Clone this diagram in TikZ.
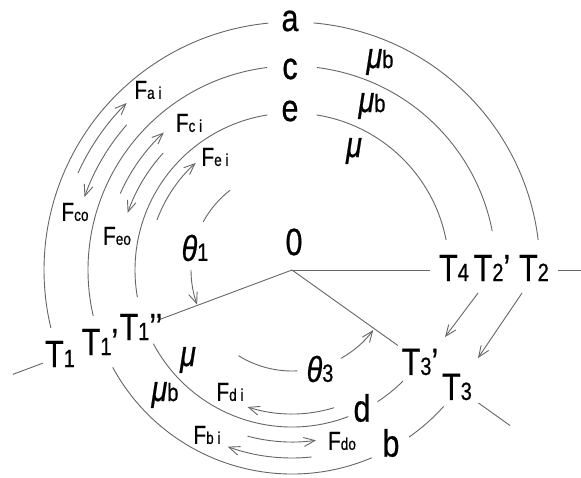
\documentclass[tikz,border=0pt]{standalone}
\usepackage{fontspec}
\setmainfont{Liberation Sans}[FakeStretch=0.8,FakeBold=0.6]
\usetikzlibrary{arrows.meta}
\newcommand\Tsub[1]{{\fontsize{25}{25}\selectfont #1}}
\newcommand\Fsub[1]{{\fontsize{17}{17}\selectfont #1}}
\newcommand\carc[4][]{\draw[ln,#1] (#2:#4pt) arc[start angle=#2,end angle=#3,radius=#4pt];}
\begin{document}
\begin{tikzpicture}[x=1pt,y=1pt,
  ln/.style={draw=black!60, line width=0.9pt},
  arr/.style={-{Straight Barb[length=11pt,width=9pt]}},
  big/.style={font=\fontsize{38}{38}\selectfont, inner sep=0pt},
  fl/.style={font=\fontsize{26}{26}\selectfont, inner sep=0pt},
  gr/.style={font=\fontsize{36}{36}\selectfont\itshape, inner sep=0pt},
]
\useasboundingbox[fill=white] (0,0) rectangle (581,477);
\coordinate (O) at (292,207);
\begin{scope}[shift={(O)}]
  % radial lines
  \draw[ln] (0,0) -- (0:138pt);
  \draw[ln] (0:266pt) -- (0:290pt);
  \draw[ln] (0,0) -- (200.5:141pt);
  \draw[ln] (200.5:266pt) -- (200.5:298pt);
  \draw[ln] (0,0) -- (-35.5:130pt);
  \draw[ln] (-35.5:229pt) -- (-35.5:268pt);
  % upper arcs
  \carc{85}{7}{248}
  \carc{95.5}{193.5}{248}
  \carc{83}{11}{204}
  \carc{97}{193}{204}
  \carc{81}{11}{157}
  \carc{99}{190}{157}
  % lower arcs
  \carc{208}{291}{157}
  \carc{303}{315}{157}
  \carc{208.5}{293}{204}
  \carc{305}{318}{204}
  % force arrows
  \carc[arr]{155.6}{134.7}{235}
  \carc[arr]{138.7}{160.6}{220}
  \carc[arr]{156}{133}{188}
  \carc[arr]{137.8}{160.8}{174}
  \carc[arr]{159.7}{132}{144}
  \carc[arr]{287}{252}{144}
  \carc[arr]{255}{278}{172}
  \carc[arr]{276}{250}{188}
  % angle arcs
  \carc{127.8}{151.5}{101}
  \carc[arr]{180}{200}{101}
  \carc{238}{273}{101}
  \carc[arr]{299}{323.5}{101}
\end{scope}
% labels
\node[big] (la) at (290,456) {a};
\node[big] (lc) at (290,408) {c};
\node[big] (le) at (290,366) {e};
\node[big] (l0) at (294,235) {0};
\node[big] (lT1) at (60,123) {T\Tsub{1}};
\node[big] (lT1p) at (100,135) {T\Tsub{1}’};
\node[big] (lT1pp) at (141,150) {T\Tsub{1}’’};
\node[big] (lT4) at (454,209) {T\Tsub{4}};
\node[big] (lT2p) at (492,209) {T\Tsub{2}’};
\node[big] (lT2) at (534,209) {T\Tsub{2}};
\node[big] (lT3p) at (420,115) {T\Tsub{3}’};
\node[big] (lT3) at (457,90) {T\Tsub{3}};
\node[big] (ld) at (362,69) {d};
\node[big] (lb) at (391,34) {b};
\node[gr] (th1) at (195,229) {θ\Tsub{\upshape 1}};
\node[gr] (th3) at (320,108) {θ\Tsub{\upshape 3}};
\node[gr] (mu1) at (380,415) {μ\Tsub{\upshape b}};
\node[gr] (mu2) at (372,371) {μ\Tsub{\upshape b}};
\node[gr] (mu3) at (354,326) {μ};
\node[gr] (mu4) at (188,117) {μ};
\node[gr] (mu5) at (165,82) {μ\Tsub{\upshape b}};
\node[fl] (fai) at (148,387) {F\Fsub{a i}};
\node[fl] (fci) at (189,354) {F\Fsub{c i}};
\node[fl] (fei) at (215,320) {F\Fsub{e i}};
\node[fl] (fco) at (75,265) {F\Fsub{co}};
\node[fl] (feo) at (117,241) {F\Fsub{eo}};
\node[fl] (fdi) at (230,85) {F\Fsub{d i}};
\node[fl] (fbi) at (207,42) {F\Fsub{b i}};
\node[fl] (fdo) at (342,36) {F\Fsub{do}};
% tension transfer arrows
\coordinate (s2p) at (478,184);
\coordinate (e3p) at (445,140);
\coordinate (s2) at (522,184);
\coordinate (e3) at (478,119);
\draw[ln,arr] (s2p) -- (e3p);
\draw[ln,arr] (s2) -- (e3);
\end{tikzpicture}
\end{document}
